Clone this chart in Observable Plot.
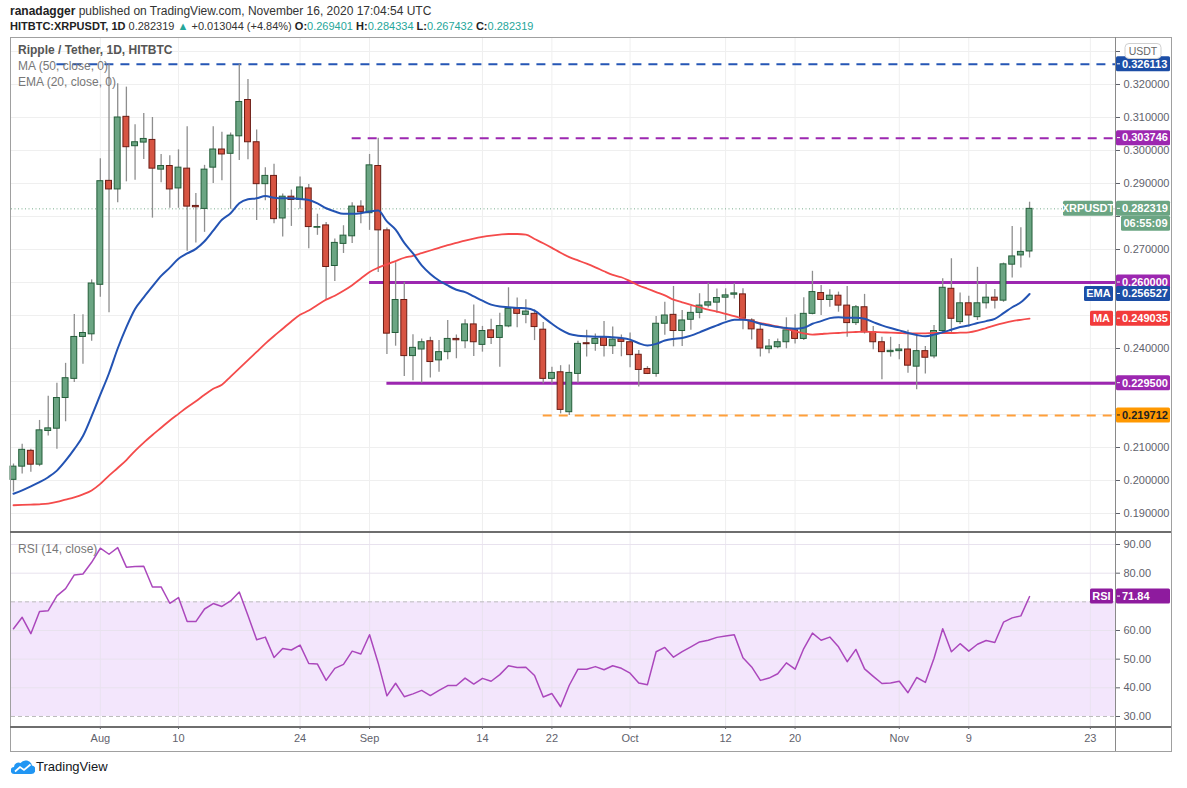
<!DOCTYPE html>
<html><head><meta charset="utf-8">
<script src="https://cdn.jsdelivr.net/npm/d3@7"></script>
<script src="https://cdn.jsdelivr.net/npm/@observablehq/plot@0.6"></script>
<style>
html,body{margin:0;padding:0;background:#fff;}
#page{position:relative;width:1187px;height:788px;overflow:hidden;font-family:"Liberation Sans",Arial,sans-serif;color:#131722;background:#fff;}
.abs{position:absolute;}
.hdr{left:10px;font-size:12px;color:#333;white-space:nowrap;}
.hdr b{color:#222;font-weight:bold;}
.teal{color:#26a69a;}
.leg{left:18px;font-size:12px;color:#777;white-space:nowrap;z-index:5;}
#frame{left:10px;top:37px;width:1160px;height:713px;border:1px solid #a0a0a0;z-index:4;pointer-events:none;}
.sep{background:#6e6e6e;z-index:4;}
.plotbox{left:0;z-index:2;}
.plotbox svg{display:block;overflow:visible;}
</style></head>
<body><div id="page">
<div class="abs hdr" id="h1" style="top:4px"></div>
<div class="abs hdr" id="h2" style="top:20px;font-size:11px"></div>
<div class="abs plotbox" id="mainbox" style="top:37px"></div>
<div class="abs plotbox" id="rsibox" style="top:531px"></div>
<div class="abs" id="frame"></div>
<div class="abs sep" style="left:1115px;top:37px;width:1px;height:714px;background:#8a8a8a"></div>
<div class="abs sep" style="left:10px;top:531px;width:1161px;height:2px"></div>
<div class="abs sep" style="left:10px;top:726px;width:1161px;height:1.5px"></div>
<div class="abs leg" style="top:43px;color:#555;font-weight:bold">Ripple / Tether, 1D, HITBTC</div>
<div class="abs leg" style="top:59px">MA (50, close, 0)</div>
<div class="abs leg" style="top:75px">EMA (20, close, 0)</div>
<div class="abs leg" style="top:542px">RSI (14, close)</div>
<div class="abs" style="left:11px;top:759px">
<svg width="24" height="16" viewBox="0 0 24 16"><path d="M3.5 15 A3.5 3.5 0 0 1 3 8 A4.5 4.5 0 0 1 9.5 4 A6.5 6.5 0 0 1 21 6.5 A4.3 4.3 0 0 1 20 15 Z" fill="#2196f3"/><path d="M4 12.5 L9 8 L13 11 L19.5 5.5" stroke="#fff" stroke-width="1.7" fill="none"/></svg></div>
<div class="abs" style="left:36px;top:759px;font-size:13px;color:#131722">TradingView</div>
</div>
<script>
const FONT = '"Liberation Sans", Arial, sans-serif';
const DAY = 864e5;

// ---- data ----
const dates = d3.utcDay.range(new Date("2020-07-22"), new Date("2020-11-17"));
const open = [
 .2002,.2042,.2090,.2048,.2150,.2157,.2250,.2308,.2435,.2443,
 .2593,.2908,.2882,.3102,.3013,.3024,.3032,.2942,.2953,.2885,.2945,.2832,.2823,.2948,.3003,.2990,.3043,.3153,.3025,.2898,.2923,.2794,.2860,.2850,.2885,.2766,.2773,.2650,.2717,.2740,.2830,
 .2810,.2953,.2758,.2447,.2547,.2377,.2397,.2422,.2364,.2389,.2429,.2422,.2473,.2411,.2455,.2432,.2467,.2520,.2502,.2505,.2457,.2308,.2328,.2207,.2323,.2416,.2414,.2434,.2407,.2428,
 .2419,.2381,.2338,.2323,.2475,.2502,.2453,.2487,.2508,.2530,.2539,.2554,.2563,.2564,.2485,.2457,.2398,.2404,.2419,.2455,.2429,.2505,.2568,.2547,.2560,.2530,.2477,.2525,.2449,.2419,.2389,
 .2392,.2397,.2345,.2392,.2376,.2453,.2581,.2480,.2537,.2495,.2537,.2554,.2545,.2654,.2682,.269401];
const high = [
 .2050,.2110,.2095,.2182,.2255,.2295,.2355,.2503,.2502,.2608,
 .2975,.3261,.3202,.3192,.3078,.3112,.3100,.2988,.2984,.3002,.3072,.2870,.2955,.3072,.3055,.3053,.3261,.3215,.3062,.2948,.2958,.2868,.2880,.2920,.2897,.2807,.2782,.2732,.2772,.2842,.2848,
 .2988,.3037,.2765,.2660,.2600,.2442,.2429,.2434,.2424,.2485,.2441,.2487,.2532,.2467,.2489,.2507,.2584,.2553,.2548,.2517,.2479,.2343,.2348,.2350,.2422,.2455,.2444,.2482,.2465,.2441,
 .2447,.2394,.2345,.2497,.2540,.2588,.2515,.2527,.2566,.2598,.2580,.2581,.2597,.2581,.2490,.2473,.2427,.2429,.2493,.2502,.2554,.2634,.2591,.2578,.2571,.2588,.2530,.2564,.2467,.2434,.2434,
 .2412,.2455,.2442,.2406,.2470,.2611,.2672,.2568,.2558,.2646,.2596,.2579,.2659,.2770,.2766,.284334];
const low = [
 .1965,.2020,.2025,.2042,.2135,.2095,.2178,.2297,.2352,.2422,
 .2555,.2508,.2842,.2905,.2910,.2973,.2795,.2902,.2825,.2825,.2695,.2720,.2752,.2900,.2908,.2822,.2970,.2972,.2788,.2848,.2778,.2738,.2770,.2822,.2702,.2743,.2548,.2603,.2688,.2718,.2778,
 .2758,.2630,.2382,.2407,.2315,.2302,.2295,.2311,.2328,.2366,.2369,.2399,.2376,.2389,.2412,.2343,.2463,.2463,.2475,.2424,.2293,.2293,.2202,.2197,.2295,.2374,.2392,.2374,.2382,.2375,
 .2342,.2283,.2321,.2313,.2440,.2405,.2406,.2455,.2490,.2523,.2507,.2484,.2550,.2457,.2426,.2374,.2384,.2399,.2399,.2414,.2424,.2502,.2500,.2525,.2510,.2434,.2470,.2444,.2396,.2305,.2374,
 .2366,.2325,.2275,.2323,.2369,.2447,.2444,.2473,.2465,.2485,.2520,.2520,.2540,.2614,.2644,.267432];
const close = [
 .2042,.2093,.2048,.2152,.2158,.2250,.2310,.2435,.2447,.2597,
 .2907,.2882,.3100,.3010,.3025,.3035,.2945,.2953,.2882,.2948,.2830,.2828,.2942,.3003,.2988,.3045,.3147,.3025,.2898,.2923,.2792,.2860,.2850,.2888,.2768,.2768,.2647,.2720,.2742,.2830,.2813,
 .2955,.2758,.2445,.2547,.2377,.2402,.2419,.2359,.2389,.2429,.2425,.2473,.2419,.2453,.2432,.2468,.2520,.2505,.2512,.2465,.2308,.2326,.2214,.2326,.2414,.2413,.2429,.2408,.2427,.2420,
 .2380,.2335,.2323,.2475,.2500,.2453,.2485,.2508,.2530,.2540,.2553,.2561,.2567,.2490,.2458,.2400,.2406,.2419,.2455,.2429,.2505,.2571,.2547,.2560,.2530,.2477,.2525,.2449,.2419,.2389,.2393,
 .2397,.2348,.2392,.2372,.2453,.2584,.2490,.2537,.2500,.2537,.2554,.2545,.2655,.2679,.269275,.282319];
const ema20 = [
 .1960,.1970,.1982,.1995,.2010,.2030,.2060,.2095,.2135,.2195,
 .2260,.2325,.2400,.2465,.2520,.2555,.2588,.2620,.2645,.2672,.2688,.2702,.2725,.2757,.2790,.2810,.2840,.2852,.2855,.2862,.2857,.2855,.2855,.2853,.2850,.2840,.2825,.2815,.2808,.2808,.2810,
 .2815,.2818,.2785,.2760,.2720,.2688,.2652,.2626,.2606,.2591,.2578,.2571,.2558,.2545,.2533,.2527,.2525,.2523,.2522,.2515,.2495,.2475,.2457,.2444,.2439,.2437,.2436,.2436,.2434,.2432,
 .2427,.2416,.2409,.2414,.2424,.2429,.2432,.2439,.2449,.2460,.2470,.2480,.2487,.2487,.2483,.2475,.2470,.2465,.2462,.2460,.2463,.2475,.2483,.2492,.2495,.2493,.2493,.2490,.2480,.2470,.2462,
 .2455,.2447,.2441,.2437,.2442,.2449,.2457,.2465,.2470,.2477,.2483,.2490,.2507,.2525,.2540,.256527];
const ma50 = [
 .1925,.1926,.1927,.1928,.1930,.1935,.1942,.1949,.1958,.1970,
 .1990,.2015,.2038,.2062,.2090,.2115,.2138,.2160,.2182,.2202,.2222,.2240,.2260,.2278,.2290,.2315,.2340,.2365,.2390,.2415,.2438,.2460,.2482,.2502,.2515,.2532,.2548,.2560,.2575,.2592,.2612,
 .2632,.2645,.2655,.2665,.2675,.2681,.2689,.2697,.2705,.2713,.2720,.2727,.2733,.2738,.2742,.2745,.2747,.2747,.2745,.2732,.2719,.2705,.2690,.2677,.2667,.2657,.2646,.2634,.2623,.2616,
 .2604,.2591,.2581,.2571,.2561,.2548,.2540,.2532,.2525,.2518,.2512,.2505,.2498,.2490,.2483,.2477,.2472,.2467,.2460,.2452,.2446,.2442,.2444,.2446,.2447,.2449,.2450,.2451,.2450,.2449,.2448,
 .2447,.2446,.2446,.2446,.2447,.2447,.2447,.2448,.2449,.2454,.2462,.2470,.2477,.2483,.2487,.249035];
const rsi14 = [
 60.6,64.6,58.9,66.6,66.9,72.1,74.6,79.4,79.7,83.8,
 88.7,86.6,88.9,82.1,82.3,82.4,75.2,75.2,69.5,71.5,63.1,63.1,67.5,69.4,68.4,70.3,73.4,65.2,56.8,57.7,50.6,53.7,53.2,54.9,48.5,48.3,42.6,46.8,48.2,52.8,51.8,
 58.5,48.6,37.2,41.6,36.9,37.9,39.1,37.3,39.1,40.8,40.8,43.4,41.3,43.3,42.3,44.6,47.7,47.1,47.2,44.3,36.8,38.0,33.4,40.9,46.5,46.5,47.4,46.3,47.7,46.8,
 45.1,41.7,41.1,52.6,54.1,50.7,52.6,54.3,56.0,56.6,57.6,58.1,58.5,50.5,47.3,42.6,43.4,44.9,48.7,46.5,53.7,59.1,56.6,57.7,54.3,49.1,53.4,46.6,44.0,41.5,41.7,
 42.3,38.3,43.6,41.9,50.3,60.6,52.6,55.4,52.8,55.2,56.5,55.8,62.9,64.4,65.1,71.84];
const priceTicks = [0.19,0.20,0.21,0.22,0.23,0.24,0.25,0.26,0.27,0.28,0.29,0.30,0.31,0.32,0.33];
const rsiTicks = [30,40,50,60,70,80,90];
const rsiBounds = [30,70];
const tickDates = ["2020-08-01","2020-08-10","2020-08-24","2020-09-01","2020-09-14","2020-09-22","2020-10-01","2020-10-12","2020-10-20","2020-11-01","2020-11-09","2020-11-23"].map(s=>new Date(s));
const levelValues = [0.326113, 0.303746, 0.26, 0.2295, 0.219712];
const levelStarts = ["2020-07-27","2020-08-30","2020-09-01","2020-09-03","2020-09-21"];
const levelLabels = ["0.326113","0.303746","0.260000","0.229500","0.219712"];
const timerLabel = "06:55:09";
const currencyLabel = "USDT";

// ---- styles ----
const levelColor = ["#2556b5","#9c27b0","#9c27b0","#9c27b0","#ff9f3a"];
const levelTag = ["#1c4ea6","#9c27b0","#9c27b0","#9c27b0","#ff9800"];
const levelTagText = ["#fff","#fff","#fff","#fff","#222"];
const levelDashed = [true,true,false,false,true];
const UP="#6ba583", UPS="#245e3a", DN="#d75442", DNS="#6b1c14";
const EMAC="#2353b3", MAC="#f44b4b", RSIC="#ab47bc";

const xDomain = [new Date("2020-07-21T18:30Z"), new Date("2020-11-25T21:30Z")];
const yDomain = [0.18455, 0.33424];
const candles = dates.map((date,i)=>({date, open:open[i], high:high[i], low:low[i], close:close[i]}));
const emaData = dates.map((date,i)=>({date, v:ema20[i]}));
const maData = dates.map((date,i)=>({date, v:ma50[i]}));
const rsiData = dates.map((date,i)=>({date, v:rsi14[i]}));
const levels = levelValues.map((value,i)=>({value, start:new Date(levelStarts[i]), color:levelColor[i], dashed:levelDashed[i]}));
const fmtDate = d => d.getUTCDate()===1 ? d3.utcFormat("%b")(d) : String(d.getUTCDate());
const f6 = d3.format(".6f");
const last = candles.length-1;

// tick labels that sit under a price tag (or the currency badge) are hidden, as in the reference
const tagValues = [...levelValues, close[last], ema20[last], ma50[last]];
const topTick = priceTicks[priceTicks.length-1];
const priceTickFmt = v => (v===topTick || tagValues.some(t=>Math.abs(t-v)<0.0026)) ? "" : f6(v);
const rsiTickFmt = v => Math.abs(v-rsi14[last])<3 ? "" : d3.format(".2f")(v);

// header
const chg = close[last]-close[last-1];
document.getElementById("h1").innerHTML = '<b>ranadagger</b> published on TradingView.com, November 16, 2020 17:04:54 UTC';
document.getElementById("h2").innerHTML =
 `<b>HITBTC:XRPUSDT, 1D</b> ${f6(close[last])} <span class="teal">&#9650;</span> ${d3.format("+.6f")(chg)} (${d3.format("+.2%")(chg/close[last-1])}) `+
 `<b>O:</b><span class="teal">${f6(open[last])}</span> <b>H:</b><span class="teal">${f6(high[last])}</span> <b>L:</b><span class="teal">${f6(low[last])}</span> <b>C:</b><span class="teal">${f6(close[last])}</span>`;

const baseStyle = {background:"transparent", fontFamily:FONT, fontSize:"11px", color:"#5f626c", overflow:"visible"};

const main = Plot.plot({
  width:1187, height:494, marginLeft:11, marginRight:72, marginTop:0, marginBottom:0,
  style: baseStyle,
  x:{type:"utc", domain:xDomain, axis:null},
  y:{domain:yDomain, axis:"right", ticks:priceTicks, tickFormat:priceTickFmt, tickSize:4, tickPadding:4, label:null},
  marks:[
    Plot.ruleX(tickDates, {stroke:"#efefef", strokeWidth:1}),
    Plot.ruleY(priceTicks, {stroke:"#efefef", strokeWidth:1}),
    Plot.ruleY([close[last]], {stroke:"#79ad8e", strokeDasharray:"1 2.5", strokeWidth:1}),
    Plot.ruleY(levels.filter(d=>d.dashed), {y:"value", x1:"start", x2:()=>xDomain[1], stroke:"color", strokeWidth:2, strokeDasharray:"9 7"}),
    Plot.ruleY(levels.filter(d=>!d.dashed), {y:"value", x1:"start", x2:()=>xDomain[1], stroke:"color", strokeWidth:3}),
    Plot.ruleX(candles, {x:"date", y1:"low", y2:"high", stroke:"#8e8e8e", strokeWidth:1.3}),
    Plot.rect(candles, {x1:d=>new Date(+d.date-0.34*DAY), x2:d=>new Date(+d.date+0.34*DAY), y1:"open", y2:"close",
      fill:d=>d.close>=d.open?UP:DN, stroke:d=>d.close>=d.open?UPS:DNS, strokeWidth:1}),
    Plot.line(maData, {x:"date", y:"v", stroke:MAC, strokeWidth:1.8, curve:"monotone-x"}),
    Plot.line(emaData, {x:"date", y:"v", stroke:EMAC, strokeWidth:2, curve:"monotone-x"})
  ]
});
document.getElementById("mainbox").appendChild(main);

const rsiPlot = Plot.plot({
  width:1187, height:221, marginLeft:11, marginRight:72, marginTop:2, marginBottom:26,
  style: baseStyle,
  x:{type:"utc", domain:xDomain, ticks:tickDates, tickFormat:fmtDate, tickSize:3, tickPadding:5, label:null},
  y:{domain:[26.51,93.84], axis:"right", ticks:rsiTicks, tickFormat:rsiTickFmt, tickSize:4, tickPadding:4, label:null},
  marks:[
    Plot.rect([rsiBounds], {x1:()=>xDomain[0], x2:()=>xDomain[1], y1:d=>d[0], y2:d=>d[1], fill:"#f3e6fc"}),
    Plot.ruleX(tickDates, {stroke:"#e6e0ea", strokeOpacity:0.7}),
    Plot.ruleY(rsiTicks.filter(v=>!rsiBounds.includes(v)), {stroke:"#e8e2ee"}),
    Plot.ruleY(rsiBounds, {stroke:"#bdbdbd", strokeDasharray:"4 3"}),
    Plot.line(rsiData, {x:"date", y:"v", stroke:RSIC, strokeWidth:1.5})
  ]
});
document.getElementById("rsibox").appendChild(rsiPlot);

// ---- price tags drawn with the plots' own y scales ----
function scaleOf(plot){ const s = plot.scale("y"); return d3.scaleLinear(s.domain, s.range); }
function tag(svg, yPix, text, bg, fg, x, w, opts={}) {
  const g = d3.select(svg).append("g").attr("font-family", FONT).attr("font-size", 11).attr("font-weight", "bold");
  g.append("rect").attr("x", x).attr("y", yPix-7.5).attr("width", w).attr("height", 15).attr("fill", bg).attr("rx",1.5);
  if (opts.tick) g.append("line").attr("x1", x+1).attr("x2", x+4).attr("y1", yPix).attr("y2", yPix).attr("stroke", fg).attr("stroke-width",1);
  g.append("text").attr("x", opts.center? x+w/2 : x+6).attr("y", yPix).attr("dy","0.35em")
    .attr("text-anchor", opts.center?"middle":"start").attr("fill", fg).text(text);
}
const ym = scaleOf(main);
levelValues.forEach((v,i)=> tag(main, ym(v), levelLabels[i], levelTag[i], levelTagText[i], 1116, 54, {tick:true}));
tag(main, ym(close[last]), f6(close[last]), UP, "#fff", 1116, 54, {tick:true});
tag(main, ym(close[last]), "XRPUSDT", UP, "#fff", 1063, 50, {center:true});
tag(main, ym(close[last])+15, timerLabel, UP, "#fff", 1121, 49, {center:true});
tag(main, ym(ema20[last]), f6(ema20[last]), "#1c4ea6", "#fff", 1116, 54, {tick:true});
tag(main, ym(ema20[last]), "EMA", "#1c4ea6", "#fff", 1084, 29, {center:true});
tag(main, ym(ma50[last]), f6(ma50[last]), "#f23b3b", "#fff", 1116, 54, {tick:true});
tag(main, ym(ma50[last]), "MA", "#f23b3b", "#fff", 1090, 23, {center:true});
// currency badge at the top of the price scale
{
  const g = d3.select(main).append("g").attr("font-family", FONT).attr("font-size", 10.5);
  const yb = ym(topTick);
  g.append("rect").attr("x",1125).attr("y",yb-7.5).attr("width",36).attr("height",15).attr("rx",4).attr("fill","#fff").attr("stroke","#d0d0d0");
  g.append("text").attr("x",1143).attr("y",yb).attr("dy","0.35em").attr("text-anchor","middle").attr("fill","#666").text(currencyLabel);
}
const yr = scaleOf(rsiPlot);
tag(rsiPlot, yr(rsi14[last]), d3.format(".2f")(rsi14[last]), "#8e1b9e", "#fff", 1116, 54, {tick:true});
tag(rsiPlot, yr(rsi14[last]), "RSI", "#8e1b9e", "#fff", 1090, 23, {center:true});
</script>
</body></html>
